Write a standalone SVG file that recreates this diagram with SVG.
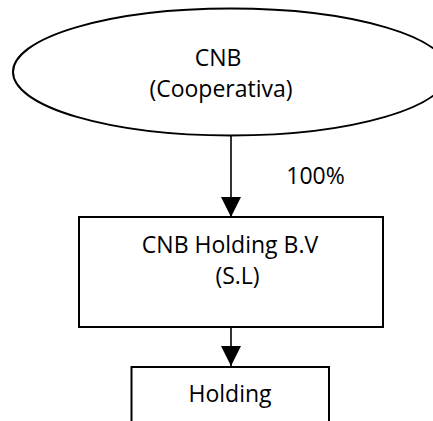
<svg xmlns="http://www.w3.org/2000/svg" width="433" height="421" viewBox="0 0 433 421">
  <style>
    .shape { fill: #ffffff; stroke: #000000; stroke-width: 2; }
    .label { font-family: "Open Sans", "Noto Sans", sans-serif; font-size: 23px; fill: #000000; text-anchor: middle; }
    .edge { stroke: #000000; stroke-width: 1.6; fill: none; }
  </style>
  <defs>
    <marker id="arrow" markerWidth="20" markerHeight="20" refX="20" refY="10" orient="auto" markerUnits="userSpaceOnUse">
      <path d="M0,0 L20,10 L0,20 Z" fill="#000000"/>
    </marker>
  </defs>
  <rect width="433" height="421" fill="#ffffff"/>

  <g id="connectors">
    <line class="edge" x1="231" y1="136" x2="231" y2="217" marker-end="url(#arrow)"/>
    <line class="edge" x1="231" y1="327" x2="231" y2="366" marker-end="url(#arrow)"/>
    <text class="label" x="315.5" y="184">100%</text>
  </g>

  <g id="cnb-cooperativa">
    <ellipse class="shape" cx="231" cy="72" rx="218" ry="63.5"/>
    <text class="label" x="218" y="66">CNB</text>
    <text class="label" x="221" y="97">(Cooperativa)</text>
  </g>

  <g id="cnb-holding-bv">
    <rect class="shape" x="79" y="217" width="304" height="110"/>
    <text class="label" x="230" y="253">CNB Holding B.V</text>
    <text class="label" x="237.5" y="284">(S.L)</text>
  </g>

  <g id="holding">
    <rect class="shape" x="131.5" y="367" width="197.5" height="70"/>
    <text class="label" x="230" y="402">Holding</text>
  </g>
</svg>
